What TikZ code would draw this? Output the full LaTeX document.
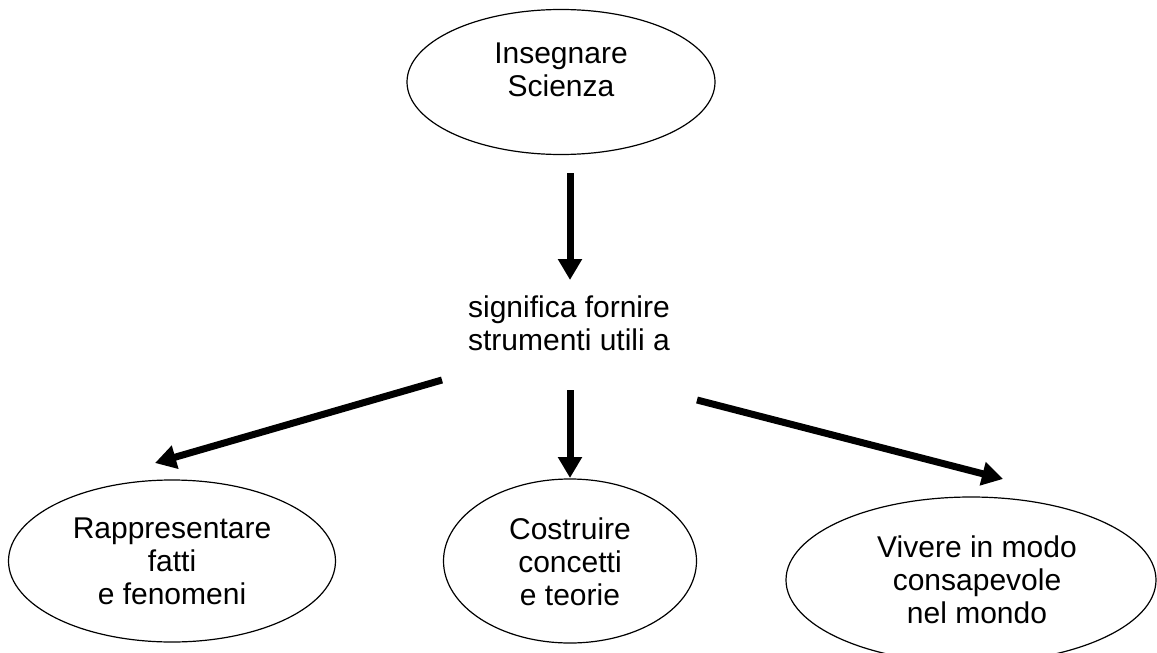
\documentclass[tikz,border=0pt]{standalone}
\usepackage{fontspec}
\setmainfont{Liberation Sans}
\usetikzlibrary{shapes.geometric,arrows.meta}
\tikzset{
  ell/.style={draw=black, line width=1.2pt, ellipse, inner sep=0pt},
  txt/.style={align=center, inner sep=0pt, font=\fontsize{30}{33}\selectfont},
  arr/.style={line width=7pt, -{Triangle[width=23pt,length=21pt]}}
}
\begin{document}
\begin{tikzpicture}[x=1pt,y=-1pt]
\useasboundingbox (0,0) rectangle (1157,653);
% ellipses
\node[ell, minimum width=308pt, minimum height=145pt] (top) at (561,82) {};
\node[ell, minimum width=327pt, minimum height=162pt] (left) at (172,561) {};
\node[ell, minimum width=253pt, minimum height=164pt] (mid) at (570,561) {};
\node[ell, minimum width=370pt, minimum height=166pt] (right) at (971,580) {};
% texts
\node[txt] (toptxt) at (561,70) {Insegnare\\Scienza};
\node[txt] (midtxt) at (569,323) {significa fornire\\strumenti utili a};
\node[txt] (lefttxt) at (172,561) {Rappresentare\\fatti\\e fenomeni};
\node[txt] (midtxt2) at (570,562) {Costruire\\concetti\\e teorie};
\node[txt] (righttxt) at (977,580) {Vivere in modo\\consapevole\\nel mondo};
% arrow ends
\coordinate (a1s) at (570,173);
\coordinate (a1e) at (570,280);
\coordinate (a2s) at (442,380);
\coordinate (a2e) at (155,463);
\coordinate (a3s) at (570,390);
\coordinate (a3e) at (570,478);
\coordinate (a4s) at (697,400);
\coordinate (a4e) at (1003,479);
\draw[arr] (a1s) -- (a1e);
\draw[arr] (a2s) -- (a2e);
\draw[arr] (a3s) -- (a3e);
\draw[arr] (a4s) -- (a4e);
\end{tikzpicture}
\end{document}
